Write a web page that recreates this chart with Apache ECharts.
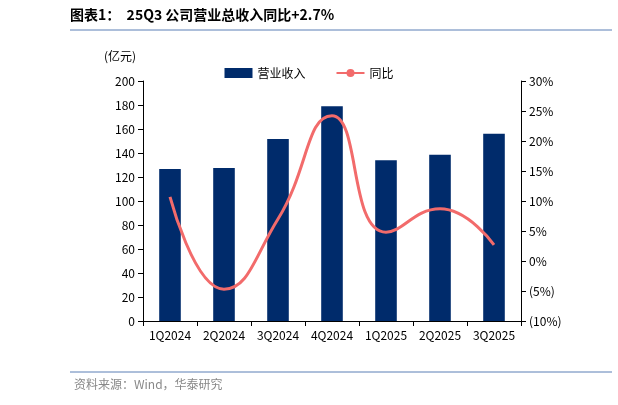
<!DOCTYPE html>
<html><head><meta charset="utf-8">
<script src="https://cdn.jsdelivr.net/npm/echarts@6/dist/echarts.min.js"></script>
<style>html,body{margin:0;background:#fff}#c{width:618px;height:405px}</style>
</head><body><div id="c"></div>
<script>
const categories = ['1Q2024','2Q2024','3Q2024','4Q2024','1Q2025','2Q2025','3Q2025'];
const revenue = [126.7, 127.5, 151.7, 179, 134, 138.5, 156];
const yoy = [10.7, -4.7, 7, 24.2, 4.8, 8.7, 2.7];
const leftTicks = {min: 0, max: 200, interval: 20};
const rightTicks = {min: -10, max: 30, interval: 5};

let myChart = echarts.init(document.getElementById('c'));
const font = '"Noto Sans CJK SC", sans-serif';
myChart.setOption({
  textStyle: {fontFamily: font},
  graphic: [
    {type: 'text', left: 70, top: 8, style: {text: '图表1：  25Q3 公司营业总收入同比+2.7%', font: 'bold 14px ' + font, fill: '#000'}},
    {type: 'line', shape: {x1: 70, y1: 30, x2: 612, y2: 30}, style: {stroke: '#5b7fb5', lineWidth: 1}},
    {type: 'text', left: 104, top: 50, style: {text: '(亿元)', font: '12px ' + font, fill: '#000'}},
    {type: 'line', shape: {x1: 70, y1: 372, x2: 612, y2: 372}, style: {stroke: '#5b7fb5', lineWidth: 1}},
    {type: 'text', left: 74, top: 378, style: {text: '资料来源：Wind，华泰研究', font: '12px ' + font, fill: '#888'}}
  ],
  legend: {
    top: 62, left: 'center', itemGap: 30, itemWidth: 28, itemHeight: 10,
    textStyle: {fontSize: 12, color: '#000'},
    data: [{name: '营业收入', icon: 'rect'}, {name: '同比'}]
  },
  grid: {left: 143, right: 97, top: 81, bottom: 84},
  xAxis: {
    type: 'category', data: categories,
    axisLine: {lineStyle: {color: '#000'}},
    axisTick: {show: true, alignWithLabel: false, lineStyle: {color: '#000'}},
    axisLabel: {color: '#000', fontSize: 12, interval: 0}
  },
  yAxis: [
    {type: 'value', ...leftTicks, splitLine: {show: false},
     axisLine: {show: true, lineStyle: {color: '#000'}}, axisTick: {show: true},
     axisLabel: {color: '#000', fontSize: 12}},
    {type: 'value', ...rightTicks, splitLine: {show: false},
     axisLine: {show: true, lineStyle: {color: '#000'}}, axisTick: {show: true},
     axisLabel: {color: '#000', fontSize: 12,
       formatter: v => v < 0 ? '(' + (-v) + '%)' : v + '%'}}
  ],
  series: [
    {name: '营业收入', type: 'bar', data: revenue, barWidth: '40%',
     itemStyle: {color: '#002b6b'}},
    {name: '同比', type: 'line', yAxisIndex: 1, data: yoy, smooth: true,
     symbol: 'none', lineStyle: {color: '#f26b6b', width: 3}, itemStyle: {color: '#f26b6b'}}
  ]
});
</script></body></html>
